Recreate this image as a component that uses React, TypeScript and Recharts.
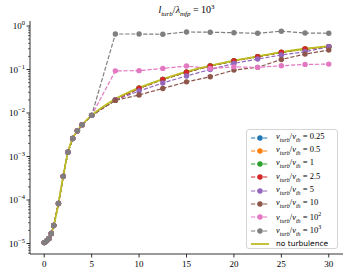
import React from 'react';
import { LineChart, Line, XAxis, YAxis } from 'recharts';

document.body.style.margin = '0';

// x positions of the samples
const xEarly = [0, 0.25, 0.5, 0.75, 1, 1.5, 2, 2.5, 3, 3.5, 4, 5];
const xLate = [7.5, 10, 12.5, 15, 17.5, 20, 22.5, 25, 27.5, 30];

// all runs coincide for x <= 5
const early = [1.05e-5, 1.15e-5, 1.3e-5, 1.7e-5, 2.6e-5, 8.3e-5, 3.5e-4, 1.25e-3, 2.6e-3, 3.9e-3, 5.4e-3, 8.8e-3];

const late025 = [0.02, 0.037, 0.059, 0.087, 0.12, 0.158, 0.196, 0.248, 0.295, 0.335];
const late05 = [0.02, 0.037, 0.059, 0.087, 0.12, 0.158, 0.196, 0.247, 0.295, 0.334];
const late1 = [0.02, 0.037, 0.059, 0.087, 0.12, 0.158, 0.196, 0.247, 0.294, 0.334];
const late25 = [0.02, 0.037, 0.059, 0.087, 0.121, 0.159, 0.197, 0.249, 0.296, 0.336];
const late5 = [0.02, 0.032, 0.049, 0.071, 0.1, 0.138, 0.174, 0.215, 0.256, 0.334];
const late10 = [0.0195, 0.026, 0.0367, 0.052, 0.068, 0.097, 0.112, 0.17, 0.226, 0.28];
const late1e2 = [0.093, 0.094, 0.106, 0.12, 0.106, 0.115, 0.112, 0.122, 0.131, 0.133];
const late1e3 = [0.654, 0.654, 0.645, 0.73, 0.72, 0.7, 0.68, 0.76, 0.69, 0.68];
const lateNoTurb = [0.021, 0.038, 0.06, 0.089, 0.122, 0.16, 0.2, 0.25, 0.3, 0.345];

const series = [
  { key: 's025', label: '0.25', color: '#1f77b4', late: late025 },
  { key: 's05', label: '0.5', color: '#ff7f0e', late: late05 },
  { key: 's1', label: '1', color: '#2ca02c', late: late1 },
  { key: 's25', label: '2.5', color: '#d62728', late: late25 },
  { key: 's5', label: '5', color: '#9467bd', late: late5 },
  { key: 's10', label: '10', color: '#8c564b', late: late10 },
  { key: 's1e2', label: '10', sup: '2', color: '#e377c2', late: late1e2 },
  { key: 's1e3', label: '10', sup: '3', color: '#7f7f7f', late: late1e3 },
];

const xTicks = [0, 5, 10, 15, 20, 25, 30];
const yMajor = [1e-5, 1e-4, 1e-3, 1e-2, 1e-1, 1];

const yMinor: number[] = [];
for (let d = -6; d <= 0; d++) {
  for (let k = 2; k <= 9; k++) {
    const v = k * Math.pow(10, d);
    if (v > 5.74e-6 && v < 1.3) yMinor.push(v);
  }
}

const allX = [...xEarly, ...xLate];
const data = allX.map((x, i) => {
  const row: any = { x };
  series.forEach((s) => {
    row[s.key] = i < xEarly.length ? early[i] : s.late[i - xEarly.length];
  });
  row.noTurb = i < xEarly.length ? early[i] : lateNoTurb[i - xEarly.length];
  return row;
});

const FONT = '"Liberation Serif", "DejaVu Serif", serif';

function XTick(props: any) {
  const { x, y, payload } = props;
  return (
    <g>
      <line x1={x} x2={x} y1={y} y2={y + 3.5} stroke="#000" strokeWidth={0.8} />
      <text x={x} y={y + 12.5} textAnchor="middle" fontSize={9} fontFamily={FONT} fill="#000">
        {payload.value}
      </text>
    </g>
  );
}

function YTick(props: any) {
  const { x, y, payload } = props;
  const v = payload.value;
  const exp = Math.round(Math.log10(v));
  const isMajor = Math.abs(v - Math.pow(10, exp)) < 1e-12 * Math.pow(10, exp) + 1e-18;
  if (!isMajor) {
    return <line x1={x - 2} x2={x} y1={y} y2={y} stroke="#000" strokeWidth={0.6} />;
  }
  return (
    <g>
      <line x1={x - 3.5} x2={x} y1={y} y2={y} stroke="#000" strokeWidth={0.8} />
      <text x={x - 5} y={y + 3} textAnchor="end" fontSize={9} fontFamily={FONT} fill="#000">
        10
        <tspan dy={-4} fontSize={6.5}>
          {exp === 0 ? '0' : '\u2212' + Math.abs(exp)}
        </tspan>
      </text>
    </g>
  );
}

function VLabel({ label, sup }: { label: string; sup?: string }) {
  return (
    <span>
      <i>v</i>
      <sub style={{ fontSize: 6, fontStyle: 'italic' }}>turb</sub>/<i>v</i>
      <sub style={{ fontSize: 6, fontStyle: 'italic' }}>th</sub> = {label}
      {sup && <sup style={{ fontSize: 6 }}>{sup}</sup>}
    </span>
  );
}

function LegendBox() {
  return (
    <div
      style={{
        position: 'absolute',
        left: 246,
        top: 129,
        width: 92,
        height: 120,
        border: '1px solid #d5d5d5',
        borderRadius: 3,
        background: 'rgba(255,255,255,0.8)',
        boxSizing: 'border-box',
      }}
    >
      {series.map((s, i) => (
        <div
          key={s.key}
          style={{ position: 'absolute', left: 3, top: 1 + i * 13.3, height: 13, display: 'flex', alignItems: 'center' }}
        >
          <svg width={20} height={10} style={{ flex: 'none' }}>
            <line x1={1} x2={19} y1={5} y2={5} stroke={s.color} strokeWidth={1.2} strokeDasharray="4.2 1.8" />
            <circle cx={10} cy={5} r={2.7} fill={s.color} />
          </svg>
          <span style={{ marginLeft: 6, fontFamily: FONT, fontSize: 8.5, lineHeight: '10px', whiteSpace: 'nowrap' }}>
            <VLabel label={s.label} sup={s.sup} />
          </span>
        </div>
      ))}
      <div
        style={{ position: 'absolute', left: 3, top: 1 + 8 * 13.3, height: 13, display: 'flex', alignItems: 'center' }}
      >
        <svg width={20} height={10} style={{ flex: 'none' }}>
          <line x1={1} x2={19} y1={5} y2={5} stroke="#bcbd22" strokeWidth={1.8} />
        </svg>
        <span style={{ marginLeft: 6, fontFamily: '"DejaVu Sans", sans-serif', fontSize: 7.5, whiteSpace: 'nowrap' }}>
          no turbulence
        </span>
      </div>
    </div>
  );
}

export default function App() {
  return (
    <div style={{ position: 'relative', width: 353, height: 275, background: '#fff' }}>
      <div
        style={{
          position: 'absolute',
          left: 30,
          width: 313,
          top: 3,
          textAlign: 'center',
          fontFamily: FONT,
          fontSize: 10,
        }}
      >
        <i>l</i>
        <sub style={{ fontSize: 7, fontStyle: 'italic' }}>turb</sub>/<i>λ</i>
        <sub style={{ fontSize: 7, fontStyle: 'italic' }}>mfp</sub> = 10
        <sup style={{ fontSize: 7 }}>3</sup>
      </div>
      <LineChart width={353} height={275} data={data} margin={{ top: 21, right: 10, bottom: 0, left: 0 }}>
        <XAxis
          dataKey="x"
          type="number"
          domain={[-1.5, 31.5]}
          ticks={xTicks}
          allowDataOverflow
          height={21}
          tickSize={0}
          tickMargin={0}
          tickLine={false}
          tick={<XTick />}
          axisLine={{ stroke: '#000', strokeWidth: 0.8 }}
        />
        <XAxis
          xAxisId="top"
          orientation="top"
          type="number"
          domain={[0, 1]}
          height={0}
          tick={false}
          tickLine={false}
          axisLine={{ stroke: '#000', strokeWidth: 0.8 }}
        />
        <YAxis
          type="number"
          scale="log"
          domain={[5.74e-6, 1.303]}
          allowDataOverflow
          ticks={[...yMajor, ...yMinor]}
          interval={0}
          width={30}
          tickSize={0}
          tickMargin={0}
          tickLine={false}
          tick={<YTick />}
          axisLine={{ stroke: '#000', strokeWidth: 0.8 }}
        />
        <YAxis
          yAxisId="right"
          orientation="right"
          type="number"
          domain={[0, 1]}
          width={0}
          tick={false}
          tickLine={false}
          axisLine={{ stroke: '#000', strokeWidth: 0.8 }}
        />
        {series.map((s) => (
          <Line
            key={s.key}
            dataKey={s.key}
            type="linear"
            stroke={s.color}
            strokeWidth={1.2}
            strokeDasharray="4.2 1.8"
            dot={{ r: 2.7, fill: s.color, stroke: s.color, strokeWidth: 0, strokeDasharray: '0' }}
            isAnimationActive={false}
          />
        ))}
        <Line
          dataKey="noTurb"
          type="monotone"
          stroke="#bcbd22"
          strokeWidth={1.8}
          dot={false}
          isAnimationActive={false}
        />
      </LineChart>
      <LegendBox />
    </div>
  );
}
